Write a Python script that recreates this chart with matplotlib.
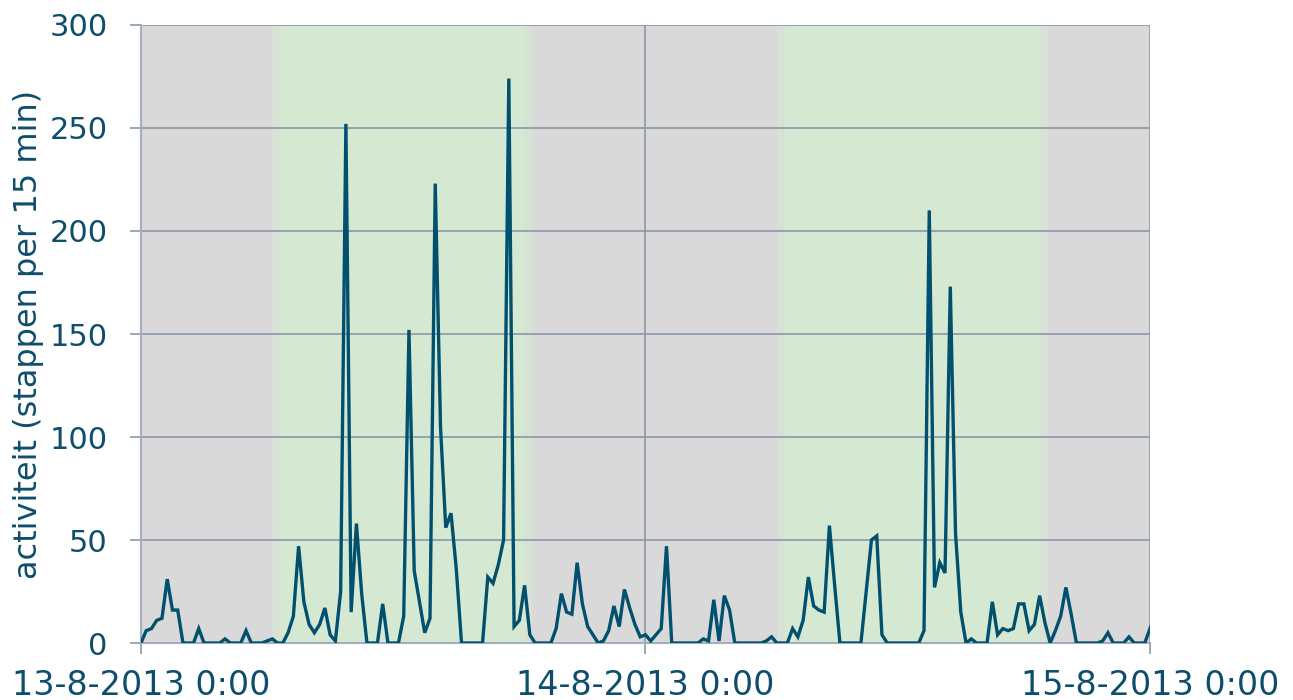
import numpy as np
import pandas as pd
import matplotlib
matplotlib.use("Agg")
import matplotlib.pyplot as plt

# steps per 15 min, starting 13-8-2013 0:00
steps = [
    0, 6, 7, 11, 12, 31, 16, 16, 0, 0, 0, 7, 0, 0, 0, 0,
    2, 0, 0, 0, 6, 0, 0, 0, 1, 2, 0, 0, 5, 13, 47, 20,
    9, 5, 9, 17, 4, 1, 25, 252, 15, 58, 24, 0, 0, 0, 19, 0,
    0, 0, 13, 152, 35, 20, 5, 12, 223, 105, 56, 63, 36, 0, 0, 0,
    0, 0, 32, 29, 38, 50, 274, 8, 11, 28, 4, 0, 0, 0, 0, 7,
    24, 15, 14, 39, 19, 8, 4, 0, 1, 6, 18, 8, 26, 17, 9, 3,
    4, 1, 4, 7, 47, 0, 0, 0, 0, 0, 0, 2, 1, 21, 1, 23,
    16, 0, 0, 0, 0, 0, 0, 1, 3, 0, 0, 0, 7, 3, 11, 32,
    18, 16, 15, 57, 28, 0, 0, 0, 0, 0, 25, 50, 52, 4, 0, 0,
    0, 0, 0, 0, 0, 6, 210, 27, 39, 34, 173, 53, 15, 0, 2, 0,
    0, 0, 20, 4, 7, 6, 7, 19, 19, 6, 9, 23, 10, 0, 6, 13,
    27, 14, 0, 0, 0, 0, 0, 1, 5, 0, 0, 0, 3, 0, 0, 0,
    7, 1,
]

# day (green) and night (gray) periods, in hours from start
night_periods = [(0, 6.25), (18.625, 30.25), (43.125, 48)]
day_periods = [(6.625, 18.25), (30.625, 42.75)]
edge_periods = [(6.25, 6.625), (18.25, 18.625), (30.25, 30.625), (42.75, 43.125)]

tick_labels = ["13-8-2013 0:00", "14-8-2013 0:00", "15-8-2013 0:00"]

start = pd.Timestamp("2013-08-13 00:00")
times = pd.date_range(start, periods=len(steps), freq="15min")

line_col = "#00506e"
text_col = "#0f4e6b"
grid_col = "#8a97aa"

fig = plt.figure(figsize=(12.93, 7.0), dpi=100)
ax = fig.add_axes([0.109, 0.0814, 0.7804, 0.8829])


def hrs(h):
    return start + pd.Timedelta(hours=h)


for a, b in night_periods:
    ax.axvspan(hrs(a), hrs(b), color="#d9d9d9", lw=0, zorder=0.5)
for a, b in day_periods:
    ax.axvspan(hrs(a), hrs(b), color="#d5e8d2", lw=0, zorder=0.5)
for a, b in edge_periods:
    ax.axvspan(hrs(a), hrs(b), color="#d7e1d5", lw=0, zorder=0.5)

ax.plot(times, steps, color=line_col, lw=2.4, zorder=3, solid_joinstyle="miter")

ax.set_xlim(hrs(0), hrs(48))
ax.set_ylim(0, 300)
ax.set_yticks(np.arange(0, 301, 50))
ax.set_xticks([hrs(0), hrs(24), hrs(48)])
ax.set_xticklabels(tick_labels)

ax.set_axisbelow("line")
ax.grid(True, color=grid_col, lw=1.2)

for s in ["top", "right"]:
    ax.spines[s].set_visible(False)
for s in ["left", "bottom"]:
    ax.spines[s].set_color("#a5afbb")
    ax.spines[s].set_linewidth(1.5)

ax.tick_params(axis="both", colors=grid_col, length=8, width=1.2,
               labelcolor=text_col)
ax.tick_params(axis="x", pad=11, labelsize=24)
ax.tick_params(axis="y", pad=16, labelsize=22)
ax.set_ylabel("activiteit (stappen per 15 min)", color=text_col, fontsize=23,
              labelpad=4)

fig.savefig("out.png", dpi=100)
